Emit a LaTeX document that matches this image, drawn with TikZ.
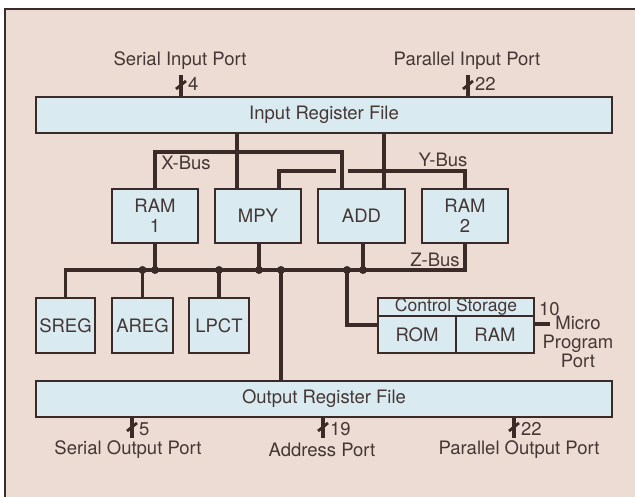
\documentclass[tikz,border=0pt]{standalone}
\usepackage{fontspec}
\setmainfont{TeX Gyre Heros}
\begin{document}
\begin{tikzpicture}[x=1pt,y=-1pt,
  font=\fontsize{18.5}{20}\selectfont,
  bus/.style={line width=3.4pt,draw=ln},
  box/.style={draw=ln,line width=1.7pt,fill=bx,text=tx,inner sep=0pt,align=center,font=\fontsize{18.5}{20}\selectfont},
  lbl/.style={text=tx,inner sep=0pt,align=center},
  jdot/.style={circle,fill=ln,inner sep=0pt,minimum size=8pt},
  tick/.style={line width=2.8pt,draw=ln}]
\definecolor{bg}{HTML}{ECDCD3}
\definecolor{bx}{HTML}{D9EBF1}
\definecolor{ln}{HTML}{3A2B29}
\definecolor{tx}{HTML}{453735}
\useasboundingbox (0,0) rectangle (635,497);
\fill[white] (0,0) rectangle (635,497);
\fill[bg] (5,9) rectangle (635,497);
\draw[ln,line width=1.8pt] (5,497) -- (5,9) -- (635,9);

% register files
\node[box,minimum width=576pt,minimum height=36pt] (irf) at (324,115) {Input Register File};
\node[box,minimum width=576pt,minimum height=36pt] (orf) at (324,399) {Output Register File};

% functional units
\node[box,minimum width=86pt,minimum height=54pt] (ram1) at (155,216) {RAM\\1};
\node[box,minimum width=86pt,minimum height=54pt] (mpy) at (258,216) {MPY};
\node[box,minimum width=87pt,minimum height=54pt] (add) at (361.5,216) {ADD};
\node[box,minimum width=86pt,minimum height=54pt] (ram2) at (465,216) {RAM\\2};

\node[box,minimum width=59pt,minimum height=55pt] (sreg) at (65.5,325.5) {SREG};
\node[box,minimum width=61pt,minimum height=55pt] (areg) at (142.5,325.5) {AREG};
\node[box,minimum width=60pt,minimum height=55pt] (lpct) at (219,325.5) {LPCT};

\node[box,minimum width=156pt,minimum height=18pt,font=\fontsize{17.5}{20}\selectfont] (cs) at (456,307) {Control Storage};
\node[box,minimum width=78pt,minimum height=37pt] (rom) at (417,334.5) {ROM};
\node[box,minimum width=78pt,minimum height=37pt] (cram) at (495,334.5) {RAM};

% coordinates
\coordinate (xbl) at (155,152);
\coordinate (xbr) at (342,152);
\coordinate (zbl) at (65.5,270);
\coordinate (zbr) at (465,270);
\coordinate (ym) at (279,171);
\coordinate (yr) at (465,171);

% X-Bus
\draw[bus] (ram1.north) -- (xbl) -- (xbr) -- (add.north -| xbr);
\draw[bus] (irf.south -| 237,0) -- (mpy.north -| 237,0);
\draw[bus] (irf.south -| 384,0) -- (add.north -| 384,0);
% Y-Bus (break where it crosses X-bus drop)
\draw[bus] (mpy.north -| ym) -- (ym) -- (336,171);
\draw[bus] (348,171) -- (yr) -- (ram2.north);
% Z-Bus
\draw[bus] (sreg.north) -- (zbl) -- (zbr) -- (ram2.south);
\draw[bus] (ram1.south) -- (ram1.south |- zbl) node[jdot]{};
\draw[bus] (areg.north) -- (areg.north |- zbl) node[jdot]{};
\draw[bus] (lpct.north) -- (lpct.north |- zbl) node[jdot]{};
\draw[bus] (mpy.south -| 259,0) -- (259,270) node[jdot]{};
\draw[bus] (add.south -| 363,0) -- (363,270) node[jdot]{};
\draw[bus] (orf.north -| 281,0) -- (281,270) node[jdot]{};
\coordinate (rc) at (347,325);
\draw[bus] (347,270) node[jdot]{} -- (rc) -- (rom.west |- rc);

% micro program port
\coordinate (mp) at (550,324);
\draw[bus] (cram.east |- mp) -- (mp);
\node[lbl,anchor=south west] (ten) at (539,316) {10};
\node[lbl,anchor=north] (mpp) at (578,316) {Micro\\[-1pt]Program\\[-1pt]Port};

% input ports
\node[lbl] (sip) at (180,61) {Serial Input Port};
\node[lbl] (pip) at (467,61) {Parallel Input Port};
\coordinate (sit) at (181,75);
\coordinate (pit) at (468,75);
\draw[bus] (sit) -- (irf.north -| sit);
\draw[bus] (pit) -- (irf.north -| pit);
\draw[tick] (176,89) -- (186,81);
\draw[tick] (463,89) -- (473,81);
\node[lbl,anchor=west] (n4) at (188,84) {4};
\node[lbl,anchor=west] (n22a) at (475,84) {22};

% output ports
\coordinate (sot) at (132,438);
\coordinate (aot) at (323,438);
\coordinate (pot) at (514,438);
\draw[bus] (orf.south -| sot) -- (sot);
\draw[bus] (orf.south -| aot) -- (aot);
\draw[bus] (orf.south -| pot) -- (pot);
\draw[tick] (127,431) -- (137,423);
\draw[tick] (318,431) -- (328,423);
\draw[tick] (509,431) -- (519,423);
\node[lbl,anchor=west] (n5) at (139,429) {5};
\node[lbl,anchor=west] (n19) at (330,429) {19};
\node[lbl,anchor=west] (n22b) at (521,429) {22};
\node[lbl] (sop) at (128,450) {Serial Output Port};
\node[lbl] (ap) at (322,450) {Address Port};
\node[lbl] (pop) at (519,450) {Parallel Output Port};

% bus labels
\node[lbl] (xl) at (186,163) {X-Bus};
\node[lbl] (yl) at (443,160) {Y-Bus};
\node[lbl] (zl) at (435,260) {Z-Bus};
\end{tikzpicture}
\end{document}
